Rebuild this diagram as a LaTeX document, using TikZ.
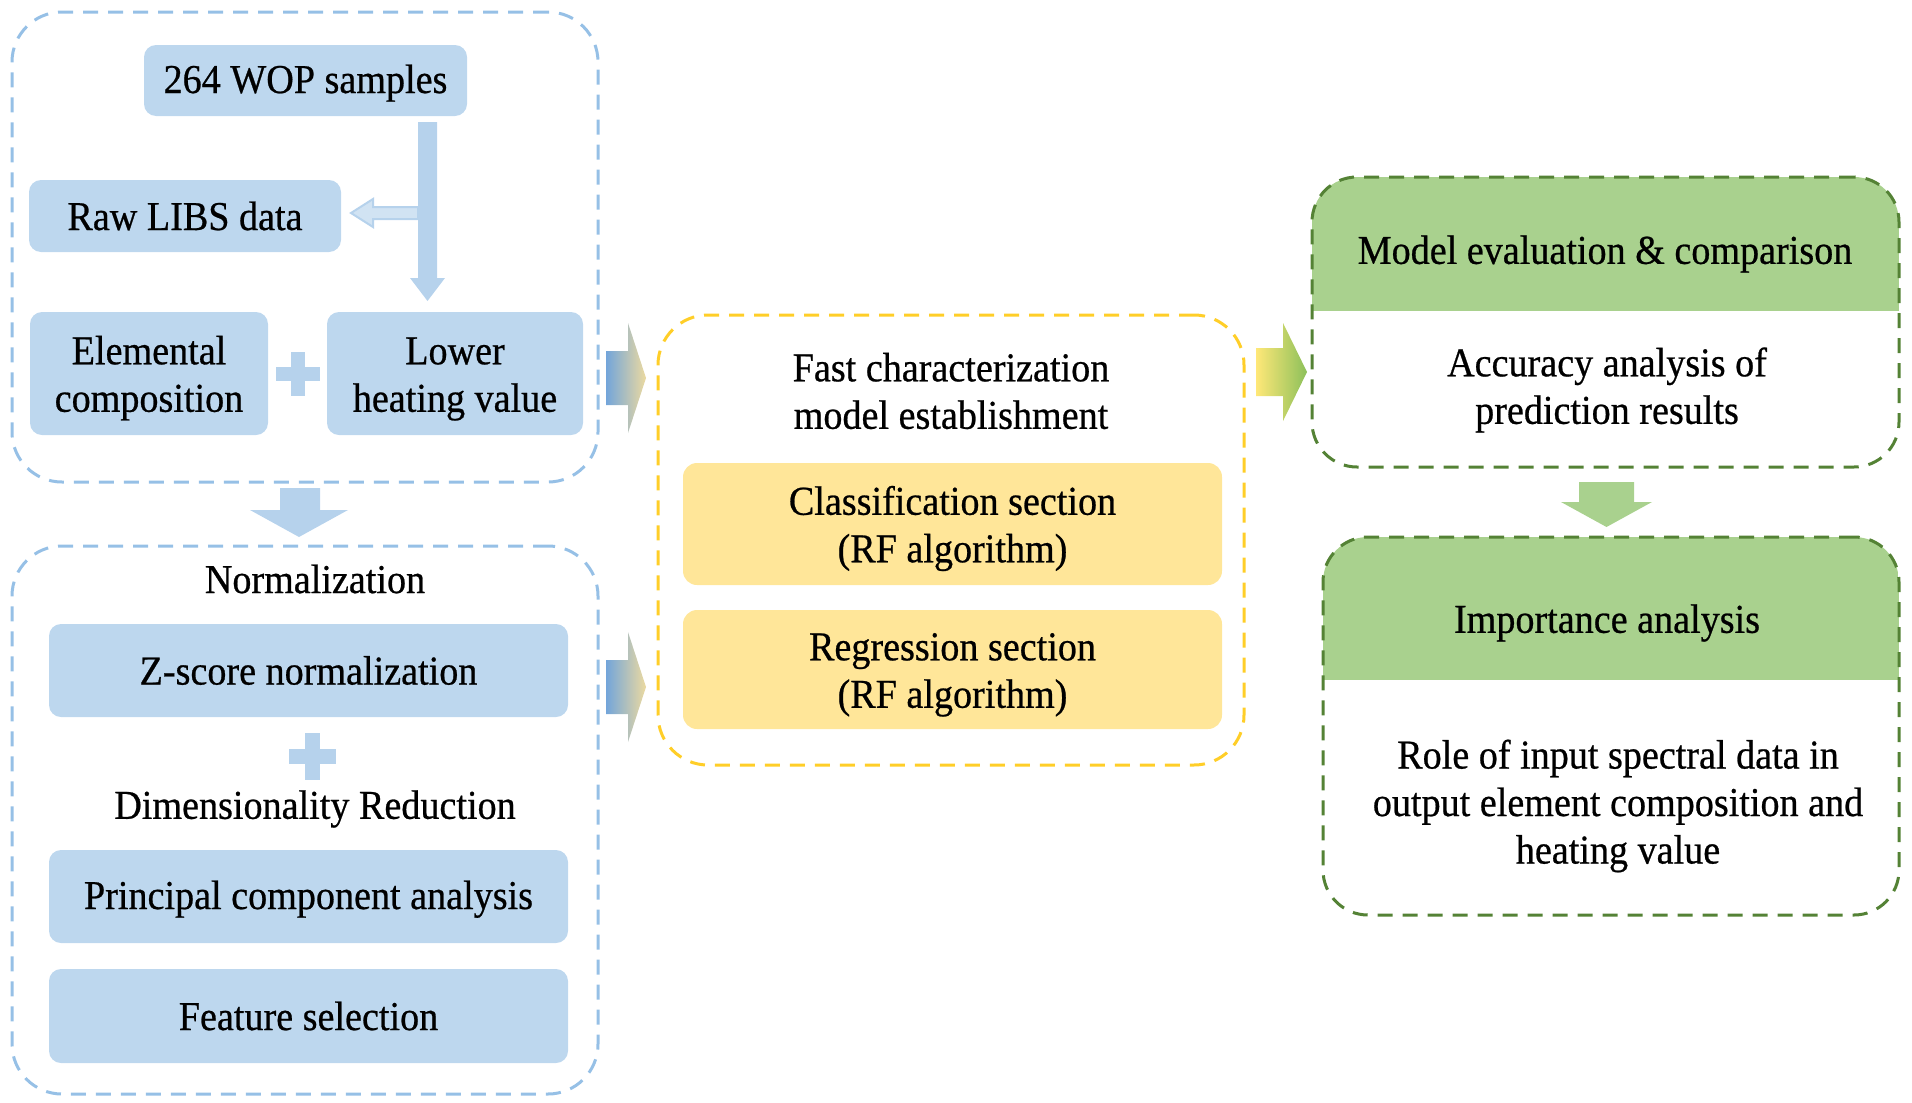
\documentclass[tikz,border=0pt]{standalone}
\usepackage{fontspec}
\setmainfont{Liberation Serif}[FakeStretch=0.93, FakeBold=0.6]
\definecolor{bfill}{RGB}{189,215,238}
\definecolor{barrow}{RGB}{182,210,236}
\definecolor{bdash}{RGB}{150,192,230}
\definecolor{yfill}{RGB}{255,230,153}
\definecolor{ydash}{RGB}{255,206,40}
\definecolor{gfill}{RGB}{169,209,142}
\definecolor{gdash}{RGB}{84,130,53}
\definecolor{gblue}{RGB}{115,165,218}
\definecolor{gtan}{RGB}{236,218,160}
\definecolor{gyel}{RGB}{255,232,120}
\definecolor{ggreen}{RGB}{140,192,90}
\newcommand{\lowr}[2]{\raisebox{-#1pt}[\height][\depth]{\begin{tabular}{@{}c@{}}#2\end{tabular}}}
\begin{document}
\begin{tikzpicture}[x=1pt,y=-1pt,
  every node/.style={font=\fontsize{41}{47.5}\selectfont, align=center, inner sep=0pt, outer sep=0pt},
  bluebox/.style={fill=bfill, rounded corners=12pt},
  yellowbox/.style={fill=yfill, rounded corners=14pt},
  outerdash/.style={dash pattern=on 15pt off 10pt, line width=3pt, rounded corners=50pt},
  outerblue/.style={outerdash, draw=bdash},
  outeryellow/.style={outerdash, draw=ydash},
  outergreen/.style={outerdash, draw=gdash, rounded corners=45pt},
]
\useasboundingbox (0,0) rectangle (1912,1103);

% ---- green headers (clipped) ----
\begin{scope}
  \clip[rounded corners=45pt] (1312,177) rectangle (1899,467);
  \fill[gfill] (1312,177) rectangle (1899,311);
\end{scope}
\begin{scope}
  \clip[rounded corners=45pt] (1323,537) rectangle (1899,915);
  \fill[gfill] (1323,537) rectangle (1899,680);
\end{scope}

% ---- outer dashed groups ----
\node[outerblue, minimum width=586pt, minimum height=470pt] (g1) at (305,247) {};
\node[outerblue, minimum width=586pt, minimum height=548pt] (g2) at (305,820) {};
\node[outeryellow, minimum width=586pt, minimum height=450pt] (g3) at (951,540) {};
\node[outergreen, minimum width=587pt, minimum height=290pt] (g4) at (1605.5,322) {};
\node[outergreen, minimum width=576pt, minimum height=378pt] (g5) at (1611,726) {};

% ---- left top group ----
\node[bluebox, minimum width=323pt, minimum height=71pt] (wop) at (305.5,80.5) {\lowr{3}{264 WOP samples}};
\node[bluebox, minimum width=312pt, minimum height=72pt] (raw) at (185,216) {Raw LIBS data};
\node[bluebox, minimum width=238pt, minimum height=123pt] (elem) at (149,373.5) {\lowr{5}{Elemental\\composition}};
\node[bluebox, minimum width=256pt, minimum height=123pt] (lhv) at (455,373.5) {\lowr{5}{Lower\\heating value}};

% vertical arrow wop -> lhv
\fill[barrow] (418,122) -- (437,122) -- (437,278) -- (445,278) -- (427.5,301) -- (410,278) -- (418,278) -- cycle;
% branch arrow to raw
\filldraw[fill=bfill!70!white, draw=barrow, line width=2pt] (418,207) -- (373,207) -- (373,199) -- (351,213) -- (373,227) -- (373,219) -- (418,219) -- cycle;
% plus 1
\fill[barrow] (291,352) rectangle (305,396);
\fill[barrow] (276,367) rectangle (320,381);

% down arrow g1 -> g2
\fill[barrow] (280,488) -- (320,488) -- (320,510) -- (348,510) -- (299,537) -- (250,510) -- (280,510) -- cycle;

% ---- left bottom group ----
\node (norm) at (315,579) {Normalization};
\node[bluebox, minimum width=519pt, minimum height=93pt] (zs) at (308.5,670.5) {Z-score normalization};
\fill[barrow] (305,733) rectangle (320,780);
\fill[barrow] (289,749) rectangle (336,764);
\node (dim) at (315,809) {Dimensionality Reduction};
\node[bluebox, minimum width=519pt, minimum height=93pt] (pca) at (308.5,896.5) {\lowr{3}{Principal component analysis}};
\node[bluebox, minimum width=519pt, minimum height=94pt] (fs) at (308.5,1016) {Feature selection};

% ---- gradient arrows left -> middle ----
\shade[left color=gblue, right color=gtan] (606,351) -- (628,351) -- (628,323) -- (646,378) -- (628,433) -- (628,405) -- (606,405) -- cycle;
\shade[left color=gblue, right color=gtan] (606,660) -- (628,660) -- (628,632) -- (646,687) -- (628,742) -- (628,714) -- (606,714) -- cycle;

% ---- middle group ----
\node (fast) at (951,391) {Fast characterization\\model establishment};
\node[yellowbox, minimum width=539pt, minimum height=122pt] (cls) at (952.5,524) {\lowr{5}{Classification section\\(RF algorithm)}};
\node[yellowbox, minimum width=539pt, minimum height=119pt] (reg) at (952.5,669.5) {\lowr{5}{Regression section\\(RF algorithm)}};

% arrow middle -> right
\shade[left color=gyel, right color=ggreen] (1256,348) -- (1283,348) -- (1283,323) -- (1307,372) -- (1283,421) -- (1283,396) -- (1256,396) -- cycle;

% ---- right groups ----
\node (mev) at (1605,254) {Model evaluation \& comparison};
\node (acc) at (1607,390) {Accuracy analysis of\\prediction results};
\fill[gfill] (1579,482) -- (1634,482) -- (1634,502) -- (1652,502) -- (1606.5,527) -- (1561,502) -- (1579,502) -- cycle;
\node (imp) at (1607,623) {Importance analysis};
\node (role) at (1618,806) {Role of input spectral data in\\output element composition and\\heating value};
\end{tikzpicture}
\end{document}
